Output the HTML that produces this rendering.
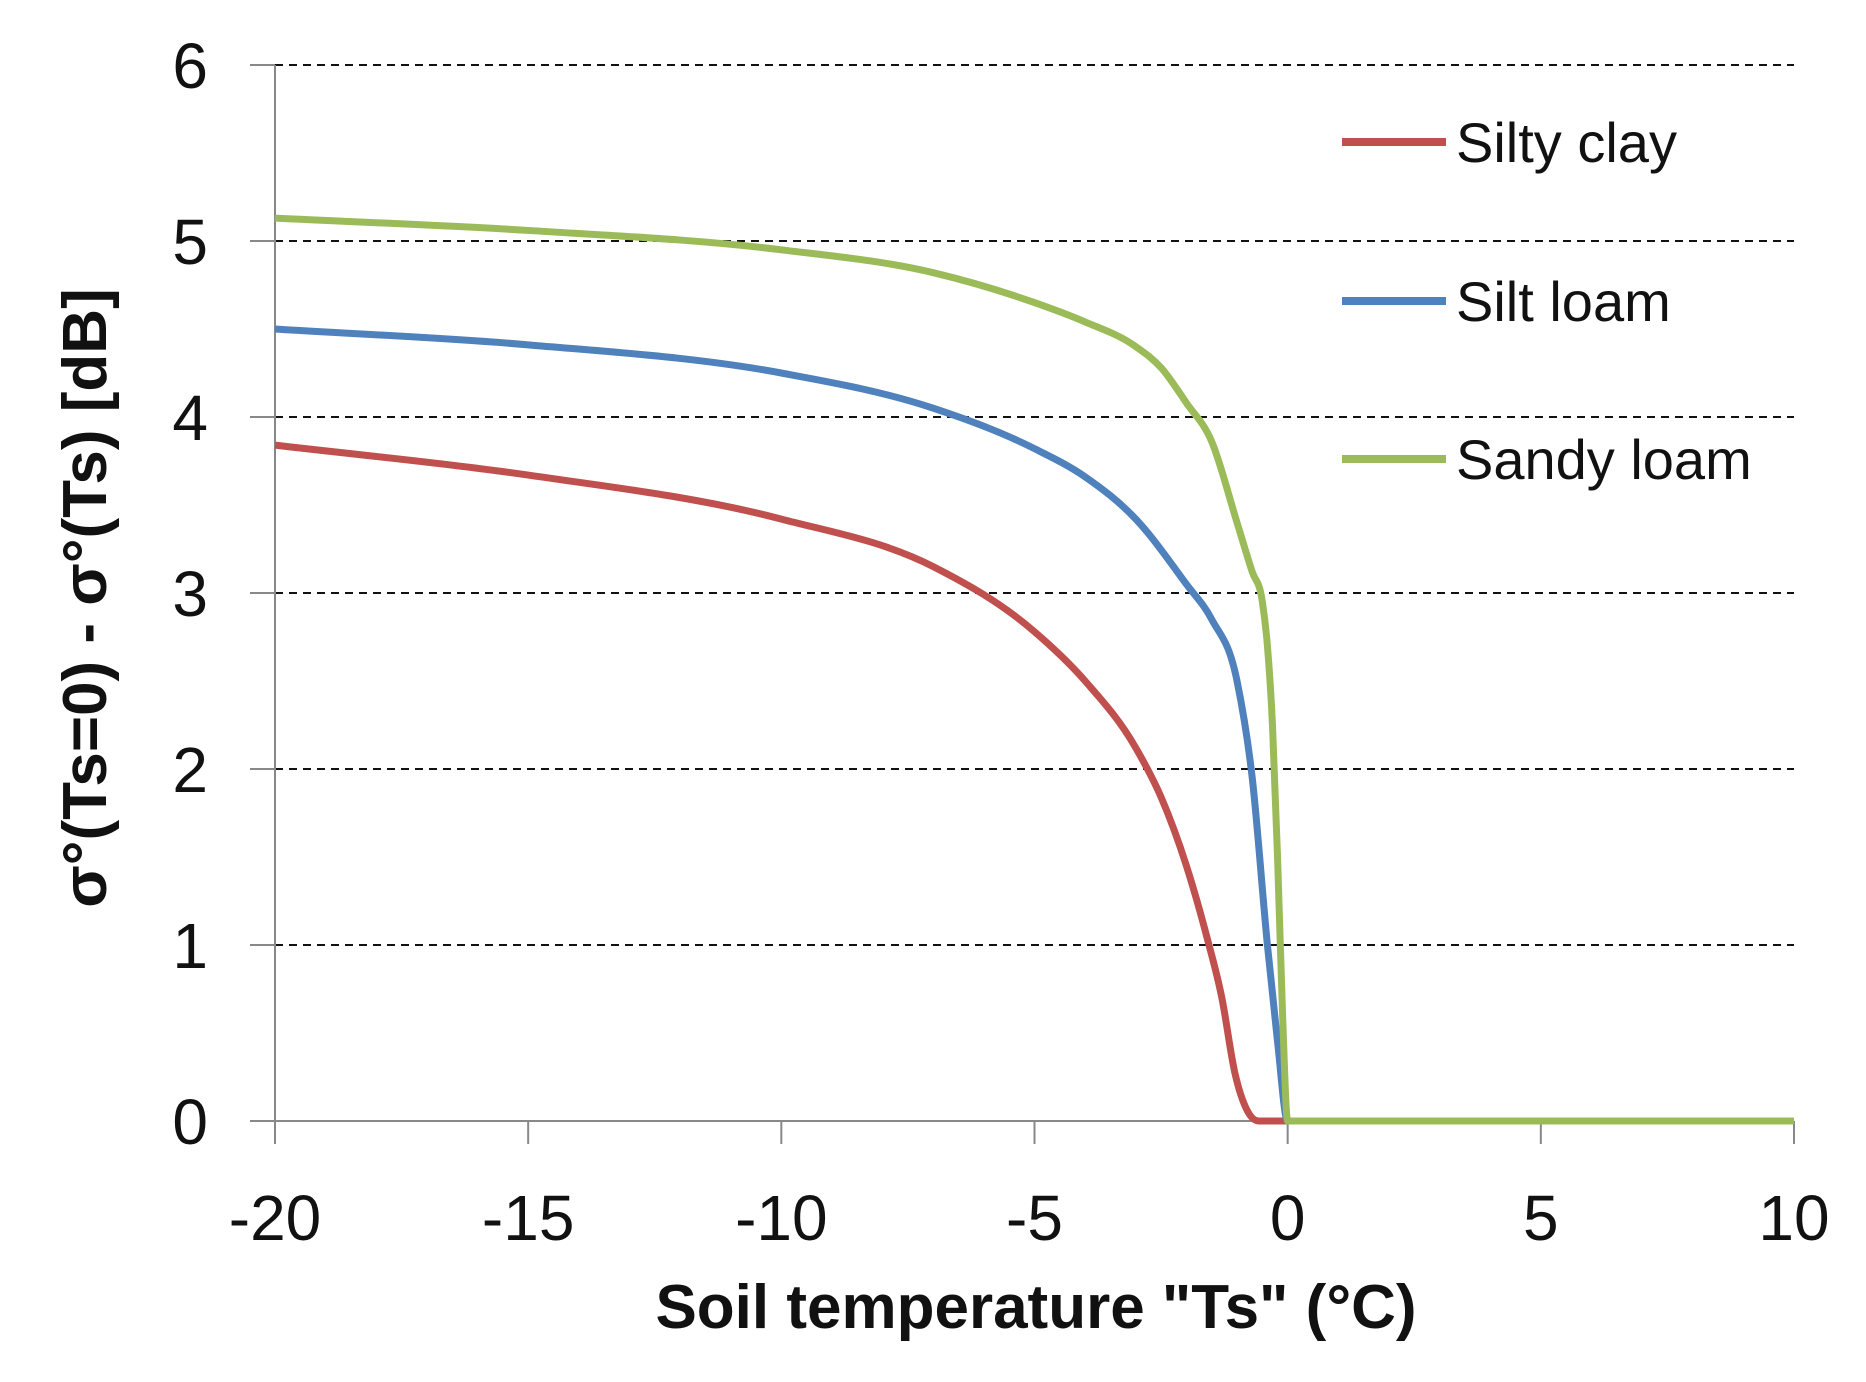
<!DOCTYPE html>
<html><head><meta charset="utf-8"><style>
body{margin:0;background:#fff}
svg{display:block;font-family:"Liberation Sans",sans-serif}
</style></head><body>
<svg id="chart" width="1866" height="1382" viewBox="0 0 1866 1382">
<g id="grid"></g>
<g id="axes"></g>
<g id="series"></g>
<g id="legend"></g>
<text x="1036" y="1328" font-size="62" font-weight="bold" text-anchor="middle" fill="#111">Soil temperature "Ts" (°C)</text>
<text transform="translate(106,598) rotate(-90)" font-size="62" font-weight="bold" text-anchor="middle" fill="#111">σ°(Ts=0) - σ°(Ts) [dB]</text>
</svg>
<script>
const xTicks=[-20,-15,-10,-5,0,5,10];
const yTicks=[0,1,2,3,4,5,6];
const seriesNames=["Silty clay","Silt loam","Sandy loam"];
const seriesColors=["#c0504d","#4f81bd","#9bbb59"];
const clayX=[-20,-15,-10,-7,-5,-4,-3,-2.5,-2,-1.6,-1.3,-1.04,-0.8,-0.57,-0.3,0,10];
const clayY=[3.84,3.67,3.42,3.15,2.78,2.5,2.12,1.84,1.45,1.05,0.7,0.27,0.06,0,0,0,0];
const loamX=[-20,-15,-10,-7,-5,-4,-3,-2,-1.5,-1,-0.7,-0.4,-0.2,0,10];
const loamY=[4.5,4.41,4.25,4.05,3.82,3.66,3.42,3.05,2.85,2.5,1.95,1.0,0.45,0,0];
const sandX=[-20,-15,-10,-7,-5,-4,-3,-2.5,-2,-1.5,-1,-0.7,-0.5,-0.4,-0.3,-0.2,-0.1,0,10];
const sandY=[5.13,5.06,4.95,4.82,4.65,4.54,4.4,4.28,4.08,3.86,3.4,3.12,2.95,2.7,2.25,1.5,0.6,0,0];

const X0=275,X1=1794,Y0=1121,Y1=65;
const sx=v=>X0+(v+20)/30*(X1-X0);
const sy=v=>Y0-v/6*(Y0-Y1);
const NS="http://www.w3.org/2000/svg";
function mk(tag,attrs,parent){const e=document.createElementNS(NS,tag);for(const k in attrs)e.setAttribute(k,attrs[k]);parent.appendChild(e);return e;}
const grid=document.getElementById('grid'),axes=document.getElementById('axes'),ser=document.getElementById('series'),leg=document.getElementById('legend');
yTicks.forEach(t=>{
  if(t>0){const g=mk('line',{x1:X0,x2:X1,y1:sy(t),y2:sy(t),stroke:'#111','stroke-width':2,'stroke-dasharray':'8,6'},grid);
  
  }
  const tk=mk('line',{x1:250,x2:X0,y1:sy(t),y2:sy(t),stroke:'#888','stroke-width':2},axes);
  
  
  const l=mk('text',{x:208,y:sy(t)+23,'font-size':64,'text-anchor':'end',fill:'#111'},axes);l.textContent=t;
  
  
});
xTicks.forEach(t=>{
  const tk=mk('line',{x1:sx(t),x2:sx(t),y1:Y0,y2:1144,stroke:'#888','stroke-width':2},axes);
  
  
  const l=mk('text',{x:sx(t),y:1240,'font-size':64,'text-anchor':'middle',fill:'#111'},axes);l.textContent=t;
  
  
});
const ya=mk('line',{x1:X0,x2:X0,y1:Y1,y2:1144,stroke:'#888','stroke-width':2},axes);


const xa=mk('line',{x1:250,x2:X1,y1:Y0,y2:Y0,stroke:'#888','stroke-width':2},axes);



function monoPath(xs,ys){
  const px=xs.map(sx),py=ys.map(sy),n=px.length;
  const d=[],m=[];
  for(let i=0;i<n-1;i++)d.push((py[i+1]-py[i])/(px[i+1]-px[i]));
  m[0]=d[0];m[n-1]=d[n-2];
  for(let i=1;i<n-1;i++){
    if(d[i-1]*d[i]<=0){m[i]=0;continue;}
    const h0=px[i]-px[i-1],h1=px[i+1]-px[i];
    m[i]=(d[i-1]*h1+d[i]*h0)/(h0+h1);
  }
  for(let i=0;i<n-1;i++){if(d[i]===0){m[i]=0;m[i+1]=0;continue;}
    const a=m[i]/d[i],b=m[i+1]/d[i],s=a*a+b*b;if(s>9){const t=3/Math.sqrt(s);m[i]=t*a*d[i];m[i+1]=t*b*d[i];}}
  let p=`M${px[0]},${py[0]}`;
  for(let i=0;i<n-1;i++){const h=(px[i+1]-px[i])/3;
    p+=` C${px[i]+h},${py[i]+m[i]*h} ${px[i+1]-h},${py[i+1]-m[i+1]*h} ${px[i+1]},${py[i+1]}`;}
  return p;
}
const sets=[[clayX,clayY],[loamX,loamY],[sandX,sandY]];
sets.forEach((s,i)=>{
  const p=mk('path',{d:monoPath(s[0],s[1]),fill:'none',stroke:seriesColors[i],'stroke-width':7,'stroke-linejoin':'round'},ser);
  
  
});
const legY=[142,301,459];
seriesNames.forEach((n,i)=>{
  const l=mk('line',{x1:1342,x2:1446,y1:legY[i],y2:legY[i],stroke:seriesColors[i],'stroke-width':8},leg);
  
  
  const t=mk('text',{x:1456,y:legY[i]+20,'font-size':56,fill:'#111'},leg);t.textContent=n;
  
  
});
</script>
</body></html>
